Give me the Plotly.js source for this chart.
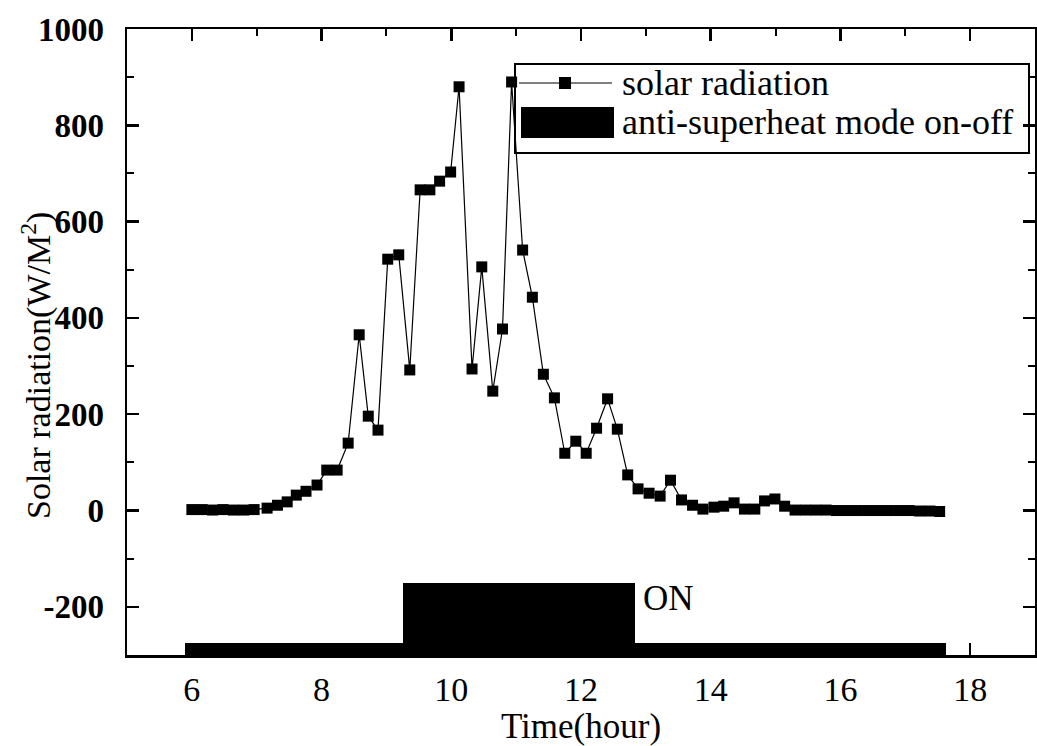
<!DOCTYPE html>
<html>
<head>
<meta charset="utf-8">
<script src="https://cdn.plot.ly/plotly-3.0.1.min.js"></script>
<style>html,body{margin:0;padding:0;background:#fff;}#chart{width:1037px;height:746px;}</style>
</head>
<body>
<div id="chart"></div>
<script>
// ---- data ----
const times = [
  6.00, 6.16, 6.32, 6.48, 6.64, 6.80, 6.96,
  7.16, 7.32, 7.47, 7.61, 7.76, 7.93, 8.08, 8.24, 8.41, 8.58,
  8.72, 8.87, 9.02, 9.19, 9.36, 9.52, 9.67, 9.82, 9.99, 10.12,
  10.32, 10.47, 10.64, 10.79, 10.93, 11.10, 11.25, 11.42, 11.59, 11.75,
  11.92, 12.08, 12.24, 12.41, 12.56, 12.72, 12.88, 13.05, 13.22, 13.38,
  13.55, 13.72, 13.88, 14.05, 14.20, 14.36, 14.52, 14.68, 14.83, 14.99,
  15.14, 15.30,
  15.46, 15.62, 15.78, 15.94, 16.10, 16.26, 16.42, 16.58, 16.74, 16.90,
  17.06, 17.22, 17.38, 17.53
];
const solarRadiation = [
  2, 2, 1, 2, 1, 1, 2,
  5, 11, 18, 32, 40, 53, 84, 84, 140, 365,
  196, 167, 522, 531, 292, 666, 666, 684, 703, 880,
  294, 506, 248, 377, 890, 541, 443, 283, 234, 119,
  144, 119, 171, 232, 169, 74, 45, 36, 30, 63,
  22, 11, 3, 7, 9, 16, 3, 3, 20, 24,
  9, 1,
  1, 1, 1, 0, 0, 0, 0, 0, 0, 0,
  0, -1, -1, -2
];
// anti-superheat mode: 1 = ON, 0 = OFF
const modeOn = [
  0, 0, 0, 0, 0, 0, 0,
  0, 0, 0, 0, 0, 0, 0, 0, 0, 0,
  0, 0, 0, 0, 1, 1, 1, 1, 1, 1,
  1, 1, 1, 1, 1, 1, 1, 1, 1, 1,
  1, 1, 1, 1, 1, 1, 0, 0, 0, 0,
  0, 0, 0, 0, 0, 0, 0, 0, 0, 0,
  0, 0,
  0, 0, 0, 0, 0, 0, 0, 0, 0, 0,
  0, 0, 0, 0
];
const modeLevels = {off: -275, on: -150, base: -300};
const xTickVals = [6, 8, 10, 12, 14, 16, 18];
const yTickVals = [-200, 0, 200, 400, 600, 800, 1000];
const legendLabels = ['solar radiation', 'anti-superheat mode on-off'];

// ---- drawing ----
const SERIF = 'Liberation Serif, Times New Roman, serif';
const W = 1037, H = 746;
const M = {l: 127, r: 2, t: 29, b: 91};
const PW = W - M.l - M.r, PH = H - M.t - M.b;
const px = x => (x - M.l) / PW;      // pixel -> paper x
const py = y => (H - M.b - y) / PH;  // pixel -> paper y

const barTrace = {
  type: 'bar',
  x: times,
  y: modeOn.map(v => (v ? modeLevels.on : modeLevels.off) - modeLevels.base),
  base: modeLevels.base,
  width: 0.21,
  marker: {color: '#000', line: {width: 0}},
  hoverinfo: 'skip',
  showlegend: false
};
const lineTrace = {
  type: 'scatter',
  mode: 'lines+markers',
  x: times,
  y: solarRadiation,
  line: {color: '#000', width: 1.2},
  marker: {symbol: 'square', size: 11, color: '#000'},
  showlegend: false
};

const axisCommon = {
  showline: true, linecolor: '#000', linewidth: 2.5, mirror: 'ticks',
  ticks: 'inside', ticklen: 12, tickwidth: 2.5, tickcolor: '#000',
  showgrid: false, zeroline: false
};

const layout = {
  width: W, height: H,
  margin: M,
  paper_bgcolor: '#fff', plot_bgcolor: '#fff',
  showlegend: false,
  bargap: 0,
  xaxis: Object.assign({}, axisCommon, {
    range: [5, 19],
    tickvals: xTickVals,
    ticktext: xTickVals.map(String),
    minor: {dtick: 1, tick0: 5, ticks: 'inside', ticklen: 7, tickwidth: 2, tickcolor: '#000'},
    tickfont: {family: SERIF, size: 34, color: '#000'},
    ticklabelstandoff: 3,
    title: {text: 'Time(hour)', font: {family: SERIF, size: 35, color: '#000'}, standoff: 2}
  }),
  yaxis: Object.assign({}, axisCommon, {
    range: [-300, 1000],
    tickvals: yTickVals,
    ticktext: yTickVals.map(String),
    minor: {dtick: 100, tick0: 0, ticks: 'inside', ticklen: 7, tickwidth: 2, tickcolor: '#000'},
    tickfont: {family: SERIF, size: 33, color: '#000', weight: 'bold'},
    ticklabelstandoff: 14
  }),
  shapes: [
    // legend frame
    {type: 'rect', xref: 'paper', yref: 'paper', x0: px(515), x1: px(1029), y0: py(153), y1: py(64),
     line: {color: '#000', width: 2}, fillcolor: 'rgba(0,0,0,0)'},
    // legend line + marker
    {type: 'line', xref: 'paper', yref: 'paper', x0: px(519), x1: px(612), y0: py(83), y1: py(83),
     line: {color: '#000', width: 1.2}},
    {type: 'rect', xref: 'paper', yref: 'paper', x0: px(559), x1: px(571), y0: py(89), y1: py(77),
     line: {width: 0}, fillcolor: '#000'},
    // legend bar swatch
    {type: 'rect', xref: 'paper', yref: 'paper', x0: px(521), x1: px(614), y0: py(138), y1: py(107),
     line: {width: 0}, fillcolor: '#000'}
  ],
  annotations: [
    {xref: 'paper', yref: 'paper', x: px(620), y: py(83), xanchor: 'left', yanchor: 'middle',
     text: legendLabels[0], showarrow: false, font: {family: SERIF, size: 36, color: '#000'}},
    {xref: 'paper', yref: 'paper', x: px(620), y: py(122), xanchor: 'left', yanchor: 'middle',
     text: legendLabels[1], showarrow: false, font: {family: SERIF, size: 36, color: '#000'}},
    {xref: 'x', yref: 'y', x: 12.92, y: -183, xanchor: 'left', yanchor: 'middle',
     text: 'ON', showarrow: false, font: {family: SERIF, size: 35, color: '#000'}},
    {xref: 'paper', yref: 'paper', x: px(36), y: py(366), xanchor: 'center', yanchor: 'middle',
     textangle: -90, text: 'Solar radiation(W/M<sup>2</sup>)', showarrow: false,
     font: {family: SERIF, size: 34, color: '#000'}}
  ]
};

Plotly.newPlot('chart', [barTrace, lineTrace], layout, {displayModeBar: false, staticPlot: true});
</script>
</body>
</html>
